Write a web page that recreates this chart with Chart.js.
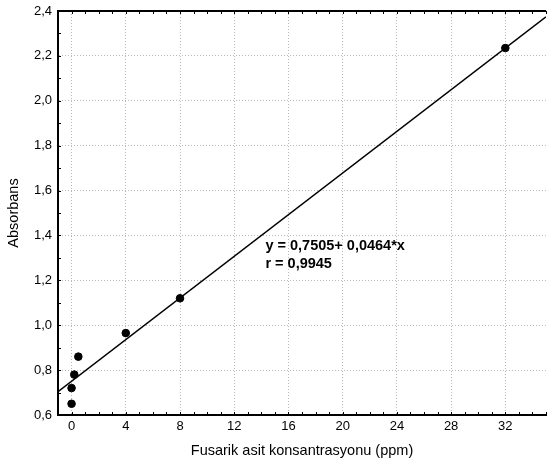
<!DOCTYPE html>
<html>
<head>
<meta charset="utf-8">
<script src="https://cdn.jsdelivr.net/npm/chart.js@4"></script>
<style>
  body { margin: 0; background: #fff; }
  #wrap { width: 551px; height: 463px; }
</style>
</head>
<body>
<div id="wrap"><canvas id="calChart"></canvas></div>
<script>
// Measured points (concentration ppm, absorbance)
const concValues = [0, 0, 0.2, 0.5, 4, 8, 32];
const absValues = [0.65, 0.72, 0.78, 0.86, 0.965, 1.12, 2.235];

// Fit line y = a + b*x
const fitIntercept = 0.7505;
const fitSlope = 0.0464;
const fitRange = [-1, 35];

const xTicks = [0, 4, 8, 12, 16, 20, 24, 28, 32];
const yTicks = [0.6, 0.8, 1.0, 1.2, 1.4, 1.6, 1.8, 2.0, 2.2, 2.4];

const fmt = (v) => v.toFixed(1).replace(".", ",");
const FONT = "'Liberation Sans', Arial, sans-serif";

// Draws the top frame, inward minor ticks and the equation text
const framePlugin = {
  id: "frame",
  afterDraw(chart) {
    const { ctx, chartArea: a, scales } = chart;
    const xs = scales.x, ys = scales.y;
    ctx.save();
    ctx.strokeStyle = "#000";
    ctx.lineWidth = 2;
    ctx.beginPath();
    ctx.moveTo(a.left, a.top);
    ctx.lineTo(a.right, a.top);
    ctx.stroke();

    ctx.lineWidth = 1;
    ctx.beginPath();
    for (let v = -1; v <= 35; v++) {
      const px = Math.round(xs.getPixelForValue(v)) + 0.5;
      ctx.moveTo(px, a.top);
      ctx.lineTo(px, a.top + 3);
      ctx.moveTo(px, a.bottom);
      ctx.lineTo(px, a.bottom - 3);
    }
    for (let i = 6; i <= 24; i++) {
      const py = Math.round(ys.getPixelForValue(i / 10)) + 0.5;
      ctx.moveTo(a.left, py);
      ctx.lineTo(a.left + 3, py);
    }
    ctx.stroke();

    // equation label
    ctx.fillStyle = "#000";
    ctx.font = "bold 14.5px " + FONT;
    ctx.textBaseline = "alphabetic";
    const tx = xs.getPixelForValue(14.3);
    const ty = ys.getPixelForValue(1.335);
    ctx.fillText("y = 0,7505+ 0,0464*x", tx, ty);
    ctx.fillText("r = 0,9945", tx, ty + 18);
    ctx.restore();
  },
};

const ctx = document.getElementById("calChart").getContext("2d");
new Chart(ctx, {
  type: "scatter",
  data: {
    datasets: [
      {
        label: "fit",
        type: "line",
        data: fitRange.map((x) => ({ x: x, y: fitIntercept + fitSlope * x })),
        borderColor: "#000",
        borderWidth: 1.5,
        pointRadius: 0,
        fill: false,
      },
      {
        label: "data",
        data: concValues.map((x, i) => ({ x: x, y: absValues[i] })),
        backgroundColor: "#000",
        borderColor: "#000",
        pointRadius: 3.8,
      },
    ],
  },
  plugins: [framePlugin],
  options: {
    responsive: true,
    maintainAspectRatio: false,
    animation: false,
    layout: { padding: { top: 11, right: 0, left: 0, bottom: 0 } },
    plugins: { legend: { display: false }, tooltip: { enabled: false } },
    scales: {
      x: {
        type: "linear",
        min: -1,
        max: 35,
        afterBuildTicks: (s) => { s.ticks = xTicks.map((v) => ({ value: v })); },
        afterFit: (s) => {
          s.height = 48;
          s.paddingLeft = 0;
          s.paddingRight = 0;
        },
        ticks: {
          color: "#000",
          font: { family: FONT, size: 13 },
          padding: 4,
          maxRotation: 0,
        },
        grid: { color: "#b8b8b8", lineWidth: 1, drawTicks: false },
        border: { color: "#000", width: 2, dash: [1, 2] },
        title: {
          display: true,
          text: "Fusarik asit konsantrasyonu (ppm)",
          color: "#000",
          font: { family: FONT, size: 14.5 },
          padding: { top: 0, bottom: 3 },
        },
      },
      y: {
        type: "linear",
        min: 0.6,
        max: 2.4,
        afterBuildTicks: (s) => { s.ticks = yTicks.map((v) => ({ value: v })); },
        afterFit: (s) => {
          s.width = 58;
          s.paddingTop = 0;
          s.paddingBottom = 0;
        },
        ticks: {
          color: "#000",
          font: { family: FONT, size: 13 },
          padding: 6,
          callback: (v) => fmt(v),
        },
        grid: { color: "#b8b8b8", lineWidth: 1, drawTicks: false },
        border: { color: "#000", width: 2, dash: [1, 2] },
        title: {
          display: true,
          text: "Absorbans",
          color: "#000",
          font: { family: FONT, size: 14.5 },
          padding: { top: 5, bottom: 0 },
        },
      },
    },
  },
});
</script>
</body>
</html>
